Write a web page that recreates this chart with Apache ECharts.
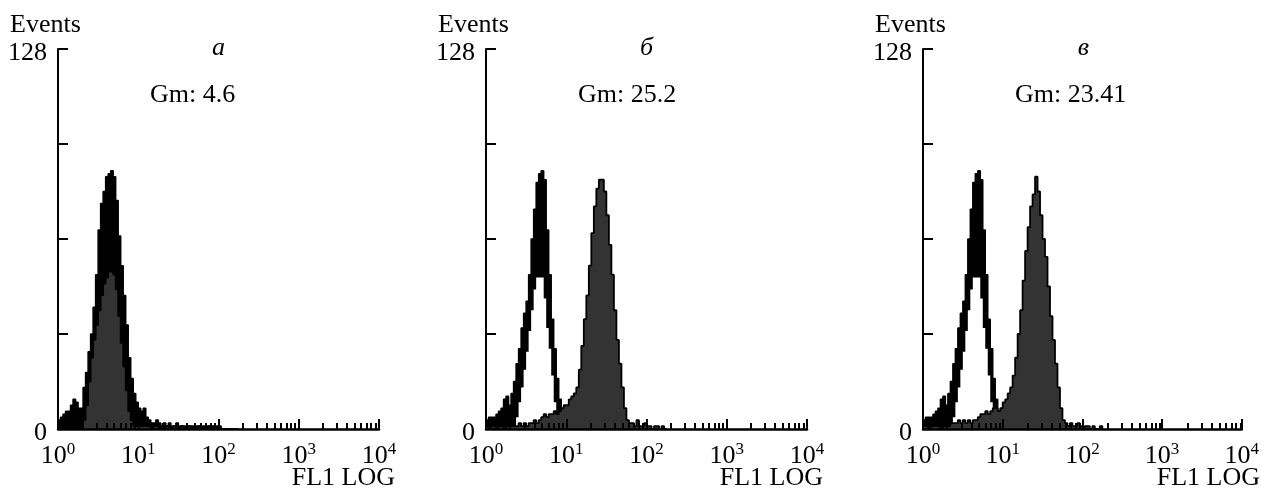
<!DOCTYPE html>
<html><head><meta charset="utf-8">
<script src="https://cdn.jsdelivr.net/npm/echarts@6/dist/echarts.min.js"></script>
<style>html,body{margin:0;padding:0;background:#fff}#c{width:1262px;height:490px}</style>
</head><body><div id="c"></div>
<script>
// ---- data ----
const binsPerDecade = 32;            // histogram channels per decade of FL1 LOG
const decadeTicks = [0, 1, 2, 3, 4]; // exponents of 10
const minorFactors = [2, 3, 4, 5, 6, 7, 8, 9];
const yTicks = [0, 32, 64, 96, 128];
const yLabelValues = [0, 128];
const panelLetters = ['а', 'б', 'в'];
const gmLabels = ['Gm: 4.6', 'Gm: 25.2', 'Gm: 23.41'];
const yTitle = 'Events';
const xTitle = 'FL1 LOG';

// counts per channel, starting at 10^0
// control (unstained) histogram: upper envelope of the noisy trace
const controlUpperA = [3,4,5,6,6,8,10,9,7,7, 14,19,26,32,41,52,67,76,80,85, 86,87,85,77,65,55,45,35,24,17,
  12,9,7,6,7,4,3,2,2,3, 2,1,2,1,2,1,1,2,1,1, 1,1,1,1,1,1,1,1,1,1, 1,1,1,1,0,0,0,0,0,0, 0,0];
const sampleA = [0,0,0,0,0,0,0,0,0,0, 3,8,16,24,30,35,40,45,49,51, 53,53,52,47,38,29,21,13,6,3,
  1,1,1,1,1,1,1,0,1,1, 0,1,0,1,0,0,1,0,0,1, 0,0,1,0,0,0,1,0,0,0, 1,0,0,0,1,0,0,0,0,0, 0,0];
const controlUpperBC = [3,4,4,4,5,6,7,10,11,8, 12,16,22,27,34,39,43,52,64,74, 83,86,87,84,67,52,37,27,17,10,
  5,2,2,1,2,1,1,1,1,1, 1,1,1,1,1,1,1,1,1,1, 1,1,1,0,0,0,0,0,0,0, 0,0,0,0,0,0,0,0,0,0, 0,0];
// control histogram: lower envelope of the noisy trace (its clear interior)
const controlInnerBC = [0,0,0,0,0,0,0,0,0,0, 0,0,4,9,14,20,26,33,40,47, 51,51,51,44,34,27,18,9,1,0,
  0,0,0,0,0,0,0,0,0,0, 0,0,0,0,0,0,0,0,0,0, 0,0,0,0,0,0,0,0,0,0, 0,0,0,0,0,0,0,0,0,0, 0,0];
const sampleB = [1,0,1,1,0,1,1,0,1,1, 1,1,1,2,1,2,1,2,2,3, 2,3,4,5,4,5,5,6,5,6,
  7,8,8,10,11,12,14,20,28,37, 45,55,66,75,81,84,84,80,72,62, 52,40,30,22,14,7,3,2,2,1,
  3,1,1,2,1,1,0,1,1,0, 1,0];
const sampleC = [1,1,0,1,1,1,1,0,1,1, 1,2,2,2,3,2,3,2,3,2, 3,3,4,5,5,6,5,6,7,7,
  6,7,9,10,12,14,18,24,32,40, 50,60,68,75,79,85,80,72,64,58, 48,38,30,22,14,7,3,2,1,2,
  1,1,2,1,0,1,1,0,1,0, 0,1];

const panels = [
  { left: 58,  upper: controlUpperA,  inner: null,           sample: sampleA },
  { left: 486, upper: controlUpperBC, inner: controlInnerBC, sample: sampleB },
  { left: 923, upper: controlUpperBC, inner: controlInnerBC, sample: sampleC }
];

// ---- build ----
const TOP = 49, W = 321, H = 380;
const FONT = '"Liberation Serif","Times New Roman",serif';
const minorPositions = [];
for (let d = 0; d < 4; d++) minorFactors.forEach(f => minorPositions.push(d + Math.log10(f)));

function toSteps(arr) {
  const pts = [[0, 0]];
  arr.forEach((v, k) => pts.push([k / binsPerDecade, v]));
  pts.push([arr.length / binsPerDecade, 0]);
  return pts;
}

const grid = [], xAxis = [], yAxis = [], series = [], graphic = [];
panels.forEach(p => grid.push({ left: p.left, top: TOP, width: W, height: H }));
panels.forEach(p => grid.push({ left: p.left, top: TOP, width: W, height: H }));
panels.forEach((p, i) => {
  xAxis.push({
    type: 'value', gridIndex: i, min: 0, max: 4, interval: 1, z: 10,
    axisLine: { onZero: false, lineStyle: { color: '#000', width: 2.5 } },
    axisTick: { inside: true, length: 10, lineStyle: { color: '#000', width: 2 } },
    splitLine: { show: false },
    axisLabel: {
      margin: 12, showMinLabel: true, showMaxLabel: true,
      formatter: v => '{b|10}{s|' + decadeTicks[Math.round(v)] + '}',
      rich: {
        b: { fontSize: 26, fontFamily: FONT, color: '#000', lineHeight: 28, verticalAlign: 'bottom' },
        s: { fontSize: 17, fontFamily: FONT, color: '#000', lineHeight: 17, verticalAlign: 'top' }
      }
    }
  });
  yAxis.push({
    type: 'value', gridIndex: i, min: 0, max: 128, interval: 32, z: 10,
    axisLine: { show: true, lineStyle: { color: '#000', width: 2 } },
    axisTick: { show: true, inside: true, length: 10, lineStyle: { color: '#000', width: 2 } },
    splitLine: { show: false },
    axisLabel: { customValues: yLabelValues, margin: 11, color: '#000',
      formatter: v => '{v|' + v + '}',
      rich: { v: { fontSize: 26, fontFamily: FONT, color: '#000', lineHeight: 26, padding: [8, 0, 0, 0] } } }
  });
});
panels.forEach((p, i) => {
  xAxis.push({
    type: 'value', gridIndex: 3 + i, min: 0, max: 4, z: 10,
    axisLine: { show: false },
    axisTick: { show: true, inside: true, length: 6, customValues: minorPositions,
      lineStyle: { color: '#000', width: 2 } },
    axisLabel: { show: false }, splitLine: { show: false }
  });
  yAxis.push({ type: 'value', gridIndex: 3 + i, min: 0, max: 128, show: false });
});
panels.forEach((p, i) => {
  series.push({
    type: 'line', xAxisIndex: i, yAxisIndex: i, data: toSteps(p.upper), step: 'end',
    symbol: 'none', silent: true, z: 2,
    lineStyle: { color: '#000', width: 1.5 },
    areaStyle: { color: '#000', opacity: 1 }
  });
  if (p.inner) series.push({
    type: 'line', xAxisIndex: i, yAxisIndex: i, data: toSteps(p.inner), step: 'end',
    symbol: 'none', silent: true, z: 3,
    lineStyle: { width: 0, opacity: 0 },
    areaStyle: { color: '#fff', opacity: 1 }
  });
  series.push({
    type: 'line', xAxisIndex: i, yAxisIndex: i, data: toSteps(p.sample), step: 'end',
    symbol: 'none', silent: true, z: 4,
    lineStyle: { color: '#000', width: 1.8 },
    areaStyle: { color: '#333', opacity: 1 }
  });
  const txt = (x, y, text, align, extra) => graphic.push({
    type: 'text', x, y, silent: true,
    style: Object.assign({ text, fill: '#000', fontSize: 26, fontFamily: FONT, align, verticalAlign: 'middle' }, extra || {})
  });
  txt(p.left - 48, 25, yTitle, 'left');
  txt(p.left + W / 2, 48, panelLetters[i], 'center', { fontStyle: 'italic' });
  txt(p.left + 92, 95, gmLabels[i], 'left');
  txt(p.left + 337, 478, xTitle, 'right');
});

const chart = echarts.init(document.getElementById('c'), null, { renderer: 'canvas' });
chart.setOption({ animation: false, backgroundColor: '#fff', grid, xAxis, yAxis, series, graphic });
</script></body></html>
